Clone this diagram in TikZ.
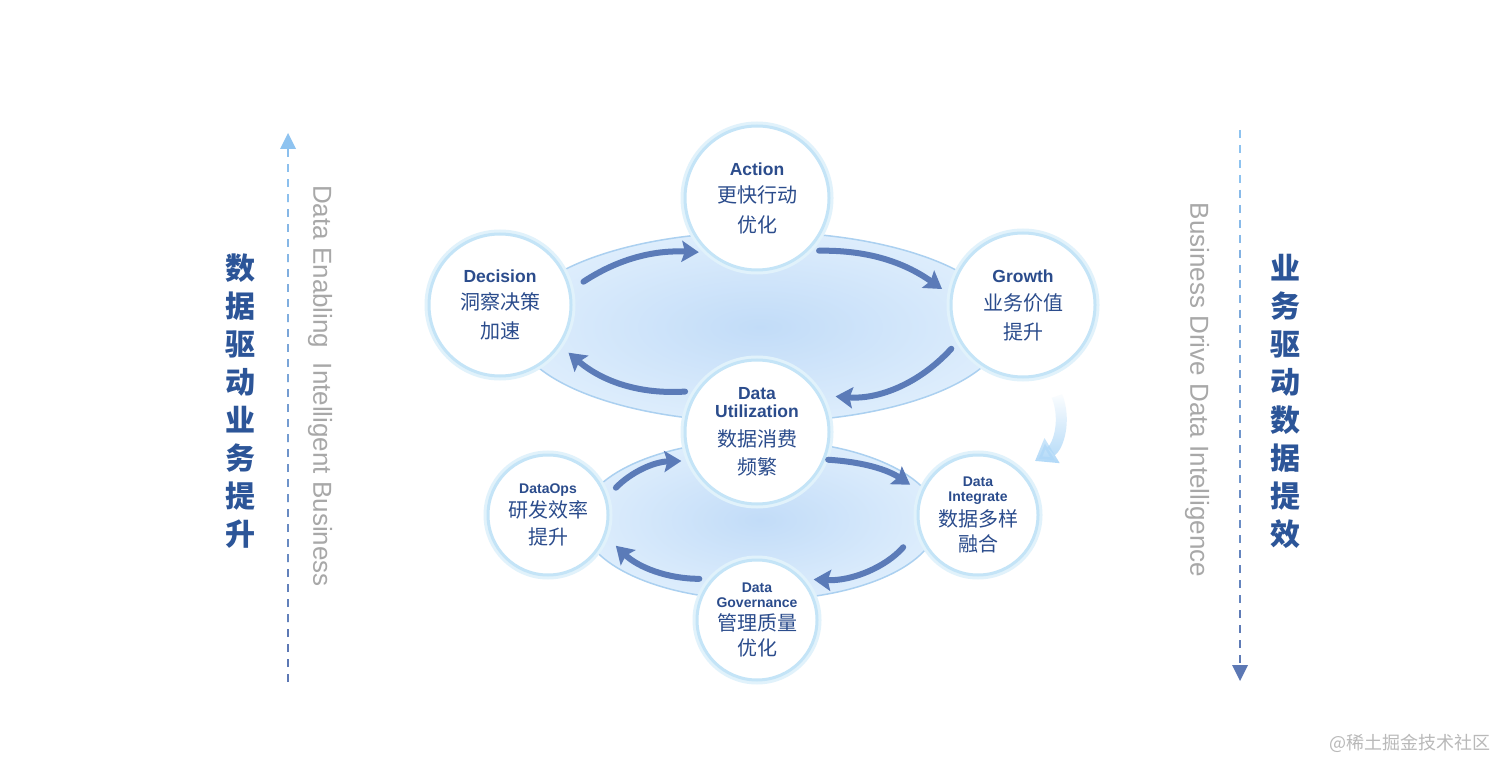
\documentclass[tikz,border=0pt]{standalone}
\usepackage{fontspec}
\setmainfont{Noto Sans CJK SC}
\newfontfamily\latin{Liberation Sans}
\usepackage{tikz}
\usetikzlibrary{arrows.meta, fadings}

\definecolor{textblue}{HTML}{2B4C8C}
\definecolor{titleblue}{HTML}{2C5598}
\definecolor{flowblue}{HTML}{5B7BB8}
\definecolor{ringblue}{HTML}{C4E4F7}
\definecolor{bandinner}{HTML}{C2DCF8}
\definecolor{bandouter}{HTML}{DDEDFC}
\definecolor{bandline}{HTML}{ABD0F0}
\definecolor{axislight}{HTML}{8EC3F0}
\definecolor{axisdark}{HTML}{5C78B4}
\definecolor{sidegrey}{HTML}{A8A8A8}
\definecolor{glowblue}{HTML}{AFD8F8}

\newcommand{\en}[2][17.5]{{\latin\bfseries\fontsize{#1}{#1}\selectfont #2}}

\begin{document}
\begin{tikzpicture}[x=1pt, y=-1pt,
    stage/.style={circle, fill=white, draw=ringblue, line width=3pt, minimum size=#1, inner sep=0pt, align=center, text=textblue, font=\fontsize{20}{28}\selectfont, preaction={draw=ringblue!50, line width=9pt}},
    band/.style={draw=bandline, line width=1.5pt, inner color=bandinner, outer color=bandouter},
    flow/.style={draw=flowblue, line width=6pt, line cap=round, -{Stealth[length=17pt, width=21pt, inset=3pt]}},
    axis/.style={line width=2.2pt, dash pattern=on 8pt off 7pt},
    side/.style={font=\fontsize{30}{38}\selectfont\bfseries, text=titleblue, align=center},
    caption/.style={font=\latin\fontsize{26}{30}\selectfont, text=sidegrey, rotate=-90},
]
\useasboundingbox[fill=white] (0,0) rectangle (1512,775);

% Bands behind the two cycles
\path[band] (760,327) ellipse [x radius=245, y radius=95];
\path[band] (760,520) ellipse [x radius=178, y radius=80];

% Upper cycle
\node[stage=144pt] (action) at (757,198) {\en{Action}\\[-1pt]更快行动\\[2pt]优化};
\node[stage=142pt] (decision) at (500,305) {\en{Decision}\\[-1pt]洞察决策\\[1pt]加速};
\node[stage=144pt] (growth) at (1023,305) {\en{Growth}\\业务价值\\[1pt]提升};
\node[stage=144pt] (use) at (757,432) {\en{Data}\\[-10pt]\en{Utilization}\\[1pt]数据消费\\频繁};

% Lower cycle
\node[stage=120pt] (ops) at (548,515) {\en[14]{DataOps}\\[-4.5pt]研发效率\\[-1pt]提升};
\node[stage=120pt] (integrate) at (978,515) {\en[14]{Data}\\[-13pt]\en[14]{Integrate}\\[-3.5pt]数据多样\\[-3pt]融合};
\node[stage=120pt] (govern) at (757,620) {\en[14]{Data}\\[-13pt]\en[14]{Governance}\\[-5.5pt]管理质量\\[-3pt]优化};

% Arrows
\draw[flow, shorten <=15pt, shorten >=9pt] (decision.12) to[bend left=18] (action.228);
\draw[flow, shorten <=11pt, shorten >=10pt] (action.314) to[bend left=18] (growth.172);
\draw[flow, shorten <=11pt, shorten >=15pt] (growth.209) to[bend left=26] (use.30);
\draw[flow, shorten <=11pt, shorten >=11pt] (use.146) to[bend left=22] (decision.326);
\draw[flow, shorten <=13pt, shorten >=8pt] (ops.17) to[bend left=22] (use.203);
\draw[flow, shorten <=3pt, shorten >=13pt] (use.338) to[bend left=15] (integrate.158);
\draw[flow, shorten <=23pt, shorten >=11pt] (integrate.194) to[bend left=26] (govern.42);
\draw[flow, shorten <=12pt, shorten >=14pt] (govern.138) to[bend left=22] (ops.340);

% Light hint arrow
\coordinate (hintstart) at (1057,396);
\coordinate (hintend) at (1035,461);
\draw[draw=glowblue, line width=11pt, path fading=north, -{Triangle[length=20pt, width=28pt]}] (hintstart) to[bend left=40] (hintend);

% Side axes
\foreach \i [evaluate=\i as \mix using 100-12*\i] in {0,...,8} {
  \draw[axis, draw=axisdark!\mix!axislight] (288,682-60*\i) -- (288,622-60*\i);
  \draw[axis, draw=axislight!\mix!axisdark] (1240,130+60*\i) -- (1240,190+60*\i);
}
\fill[axislight] (280,149) -- (288,133) -- (296,149) -- cycle;
\fill[axisdark] (1232,665) -- (1240,681) -- (1248,665) -- cycle;

% Side texts
\node[side] (lefttitle) at (240,401) {数\\据\\驱\\动\\业\\务\\提\\升};
\node[caption] (leftcap) at (320,386) {Data Enabling\ \ Intelligent Business};
\node[caption] (rightcap) at (1197,390) {Business Drive Data Intelligence};
\node[side] (righttitle) at (1285,401) {业\\务\\驱\\动\\数\\据\\提\\效};

\node[font=\fontsize{18}{20}\selectfont, text=gray!55] (mark) at (1410,743) {@稀土掘金技术社区};
\end{tikzpicture}
\end{document}
